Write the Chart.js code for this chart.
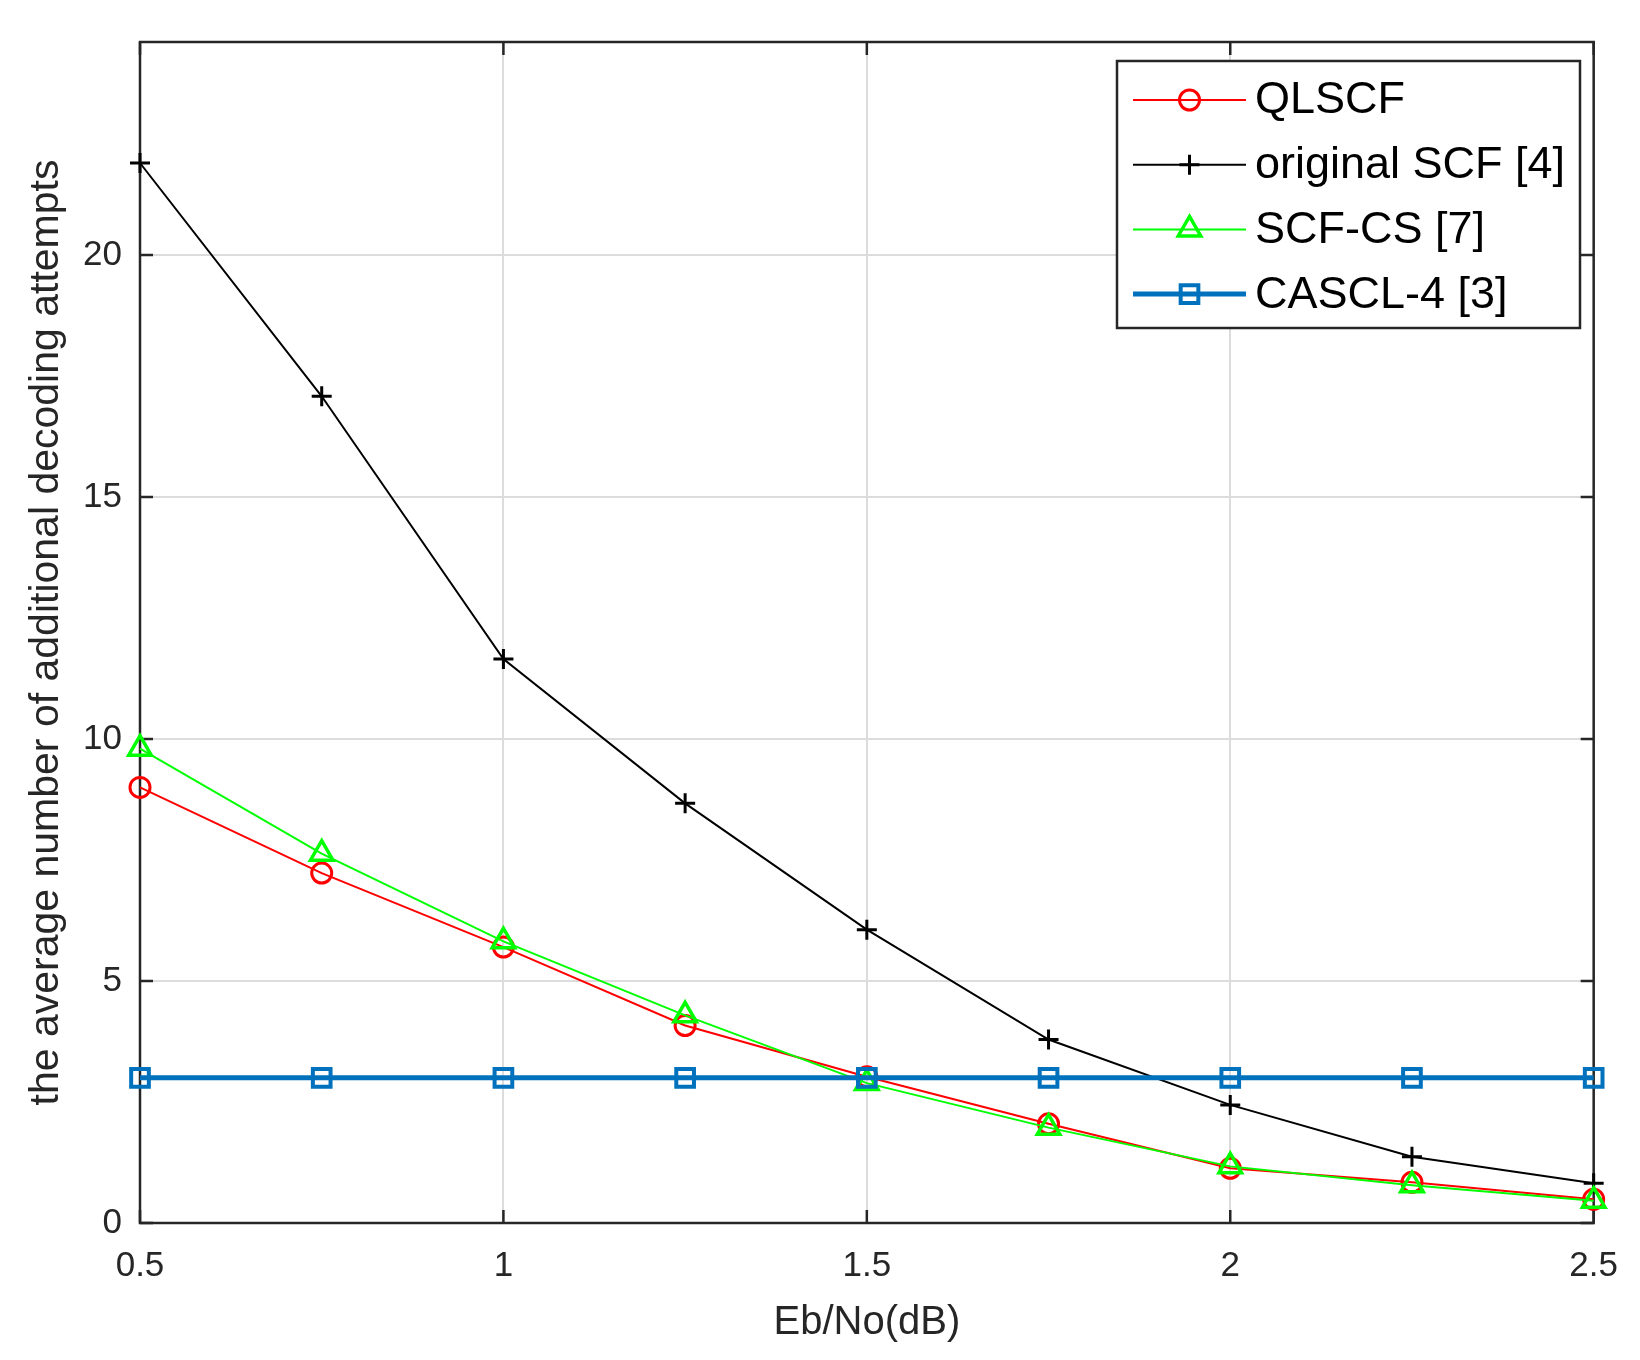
<!DOCTYPE html>
<html>
<head>
<meta charset="utf-8">
<title>Average number of additional decoding attempts</title>
<script src="https://cdn.jsdelivr.net/npm/chart.js@4.4.0/dist/chart.umd.min.js"></script>
<style>
  html, body { margin: 0; padding: 0; background: #fff; }
  #wrap { width: 1640px; height: 1360px; }
</style>
</head>
<body>
<div id="wrap"><canvas id="chart" width="1640" height="1360"></canvas></div>
<script>
// Data
const ebno = [0.5, 0.75, 1, 1.25, 1.5, 1.75, 2, 2.25, 2.5];
const qlscf = [9.0, 7.23, 5.7, 4.08, 3.02, 2.05, 1.13, 0.84, 0.49];
const originalScf = [21.9, 17.08, 11.65, 8.67, 6.06, 3.79, 2.44, 1.37, 0.82];
const scfCs = [9.8, 7.63, 5.82, 4.29, 2.89, 1.97, 1.17, 0.78, 0.46];
const cascl4 = [3, 3, 3, 3, 3, 3, 3, 3, 3];

const xTicks = [0.5, 1, 1.5, 2, 2.5];
const yTicks = [0, 5, 10, 15, 20];
const seriesNames = ['QLSCF', 'original SCF [4]', 'SCF-CS [7]', 'CASCL-4 [3]'];

const FONT = '"Liberation Sans", Arial, Helvetica, sans-serif';
const AXIS = '#262626';

const pts = ys => ebno.map((x, i) => ({ x: x, y: ys[i] }));

const datasets = [
  { label: seriesNames[0], data: pts(qlscf), borderColor: '#ff0000', borderWidth: 2,
    pointStyle: 'circle', pointRadius: 10, pointBorderWidth: 3, order: 4 },
  { label: seriesNames[1], data: pts(originalScf), borderColor: '#000000', borderWidth: 2,
    pointStyle: 'cross', pointRadius: 10, pointBorderWidth: 3, order: 3 },
  { label: seriesNames[2], data: pts(scfCs), borderColor: '#00ff00', borderWidth: 2,
    pointStyle: 'triangle', pointRadius: 13, pointBorderWidth: 3.5, order: 2 },
  { label: seriesNames[3], data: pts(cascl4), borderColor: '#0072bd', borderWidth: 5,
    pointStyle: 'rect', pointRadius: 12.5, pointBorderWidth: 4, order: 1 }
];
datasets.forEach(d => {
  d.pointBorderColor = d.borderColor;
  d.pointBackgroundColor = 'rgba(0,0,0,0)';
  d.pointHoverRadius = d.pointRadius;
  d.tension = 0;
  d.fill = false;
  d.clip = false;
});

// box, inside ticks, matlab-like
const frame = {
  id: 'frame',
  beforeDatasetsDraw(chart) {
    const { ctx, chartArea: a, scales } = chart;
    const len = 13;
    ctx.save();
    ctx.strokeStyle = AXIS;
    ctx.lineWidth = 2.5;
    ctx.strokeRect(a.left, a.top, a.right - a.left, a.bottom - a.top);
    ctx.beginPath();
    yTicks.forEach(v => {
      const y = scales.y.getPixelForValue(v);
      ctx.moveTo(a.left, y); ctx.lineTo(a.left + len, y);
      ctx.moveTo(a.right, y); ctx.lineTo(a.right - len, y);
    });
    xTicks.forEach(v => {
      const x = scales.x.getPixelForValue(v);
      ctx.moveTo(x, a.bottom); ctx.lineTo(x, a.bottom - len);
      ctx.moveTo(x, a.top); ctx.lineTo(x, a.top + len);
    });
    ctx.stroke();
    ctx.restore();
  }
};

function marker(ctx, style, x, y, r) {
  ctx.beginPath();
  if (style === 'circle') {
    ctx.arc(x, y, r, 0, Math.PI * 2);
  } else if (style === 'cross') {
    ctx.moveTo(x - r, y); ctx.lineTo(x + r, y);
    ctx.moveTo(x, y - r); ctx.lineTo(x, y + r);
  } else if (style === 'triangle') {
    ctx.moveTo(x, y - r);
    ctx.lineTo(x + r * Math.sin(Math.PI * 2 / 3), y - r * Math.cos(Math.PI * 2 / 3));
    ctx.lineTo(x - r * Math.sin(Math.PI * 2 / 3), y - r * Math.cos(Math.PI * 2 / 3));
    ctx.closePath();
  } else if (style === 'rect') {
    const s = r * Math.SQRT1_2;
    ctx.rect(x - s, y - s, 2 * s, 2 * s);
  }
  ctx.stroke();
}

const legendBox = {
  id: 'legendBox',
  afterDraw(chart) {
    const ctx = chart.ctx;
    const box = { l: 1117, t: 61, r: 1580, b: 328 };
    ctx.save();
    ctx.fillStyle = '#ffffff';
    ctx.fillRect(box.l, box.t, box.r - box.l, box.b - box.t);
    ctx.strokeStyle = AXIS;
    ctx.lineWidth = 2.5;
    ctx.strokeRect(box.l, box.t, box.r - box.l, box.b - box.t);
    chart.data.datasets.forEach((d, i) => {
      const y = 100 + i * 64.7;
      ctx.strokeStyle = d.borderColor;
      ctx.lineWidth = d.borderWidth;
      ctx.beginPath();
      ctx.moveTo(1133, y); ctx.lineTo(1246, y);
      ctx.stroke();
      ctx.lineWidth = d.pointBorderWidth;
      marker(ctx, d.pointStyle, 1189.5, y, d.pointRadius);
      ctx.fillStyle = '#000000';
      ctx.font = '45px ' + FONT;
      ctx.textBaseline = 'middle';
      ctx.textAlign = 'left';
      ctx.fillText(d.label, 1255, y + 1);
    });
    ctx.restore();
  }
};

new Chart(document.getElementById('chart'), {
  type: 'line',
  data: { datasets: datasets },
  plugins: [frame, legendBox],
  options: {
    responsive: false,
    devicePixelRatio: 1,
    animation: false,
    events: [],
    layout: { padding: { top: 42, right: 41, left: 0, bottom: 0 } },
    plugins: { legend: { display: false }, tooltip: { enabled: false } },
    scales: {
      x: {
        type: 'linear',
        min: 0.5,
        max: 2.5,
        afterBuildTicks: s => { s.ticks = xTicks.map(v => ({ value: v })); },
        afterFit: s => { s.height = 137; },
        grid: { color: '#dcdcdc', lineWidth: 2, drawTicks: false },
        border: { display: false },
        ticks: {
          padding: 22,
          color: AXIS,
          font: { family: FONT, size: 35 },
          maxRotation: 0,
          callback: v => String(v)
        },
        title: {
          display: true,
          text: 'Eb/No(dB)',
          color: AXIS,
          font: { family: FONT, size: 40 },
          padding: { top: 0, bottom: 13 }
        }
      },
      y: {
        type: 'linear',
        min: 0,
        max: 24.4,
        afterBuildTicks: s => { s.ticks = yTicks.map(v => ({ value: v })); },
        afterFit: s => { s.width = 140; },
        grid: { color: '#dcdcdc', lineWidth: 2, drawTicks: false },
        border: { display: false },
        ticks: {
          padding: 18,
          color: AXIS,
          font: { family: FONT, size: 35 },
          callback: v => String(v)
        },
        title: {
          display: true,
          text: 'the average number of additional decoding attempts',
          color: AXIS,
          font: { family: FONT, size: 41 },
          padding: { top: 22, bottom: 0 }
        }
      }
    }
  }
});
</script>
</body>
</html>
